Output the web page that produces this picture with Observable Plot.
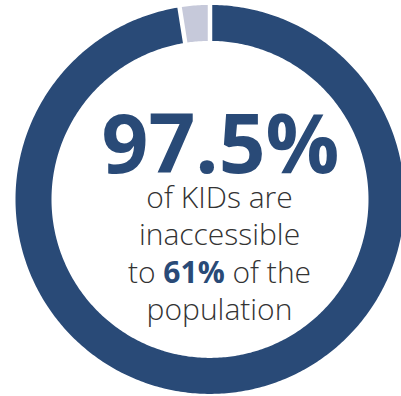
<!DOCTYPE html>
<html>
<head>
<meta charset="utf-8">
<script src="https://cdn.jsdelivr.net/npm/d3@7"></script>
<script src="https://cdn.jsdelivr.net/npm/@observablehq/plot@0.6"></script>
<style>
  html, body { margin: 0; padding: 0; background: #fff; }
  #chart { width: 401px; height: 396px; overflow: hidden; }
</style>
</head>
<body>
<div id="chart"></div>
<script>
// ---- data ----
const categories = ["Inaccessible", "Accessible"];
const values = [97.5, 2.5];
const headline = "97.5%";
const lines = ["of KIDs are", "inaccessible", "to 61% of the", "population"];
const highlight = "61%";

// ---- style ----
const dark = "#294a77";
const light = "#c6c9da";
const textColor = "#333333";
const R = 194.5, r = 158.5, gap = 4.5;

// ---- build ring polygons from the pie layout ----
const pie = d3.pie().sort(null)(values);
const ring = [];
pie.forEach((s, k) => {
  const n = Math.max(8, Math.ceil((s.endAngle - s.startAngle) * 80));
  const ao0 = s.startAngle + gap / 2 / R, ao1 = s.endAngle - gap / 2 / R;
  const ai0 = s.startAngle + gap / 2 / r, ai1 = s.endAngle - gap / 2 / r;
  for (let i = 0; i <= n; i++) {
    const t = i / n;
    const ao = ao0 + t * (ao1 - ao0), ai = ai0 + t * (ai1 - ai0);
    ring.push({
      cat: categories[k],
      x1: R * Math.sin(ao), y1: -R * Math.cos(ao),
      x2: r * Math.sin(ai), y2: -r * Math.cos(ai)
    });
  }
});

const cx = 219; // text centre in the frame
const plot = Plot.plot({
  width: 401,
  height: 396,
  margin: 0,
  style: { background: "#fff", fontFamily: "'Open Sans', sans-serif" },
  x: { domain: [-210, 191], range: [0, 401], axis: null },
  y: { domain: [-199.4, 196.6], range: [0, 396], axis: null },
  color: { domain: categories, range: [dark, light] },
  marks: [
    Plot.area(ring, { x1: "x1", y1: "y1", x2: "x2", y2: "y2", z: "cat", fill: "cat", curve: "linear" }),
    Plot.text([headline], {
      text: d => d, frameAnchor: "top-left", textAnchor: "middle", dx: 220, dy: 172, lineAnchor: "bottom",
      fontSize: 82, fontWeight: 700, fill: dark, fontFamily: "'Open Sans', sans-serif"
    }),
    ...lines.map((line, i) => Plot.text([line], {
      text: d => d, frameAnchor: "top-left", textAnchor: "middle", dx: cx, dy: 207 + i * 37.6, lineAnchor: "bottom",
      fontSize: 30, fontWeight: 300, fill: textColor, fontFamily: "'Open Sans', sans-serif"
    }))
  ]
});

// emphasise the highlighted figure inside its line
d3.select(plot).selectAll("text").each(function () {
  const el = d3.select(this);
  if (el.text() === lines[2]) {
    const [before, after] = lines[2].split(highlight);
    el.text(null);
    el.append("tspan").text(before);
    el.append("tspan").text(highlight).attr("font-weight", 700).attr("fill", dark);
    el.append("tspan").text(after);
  }
});

document.getElementById("chart").appendChild(plot);
</script>
</body>
</html>
